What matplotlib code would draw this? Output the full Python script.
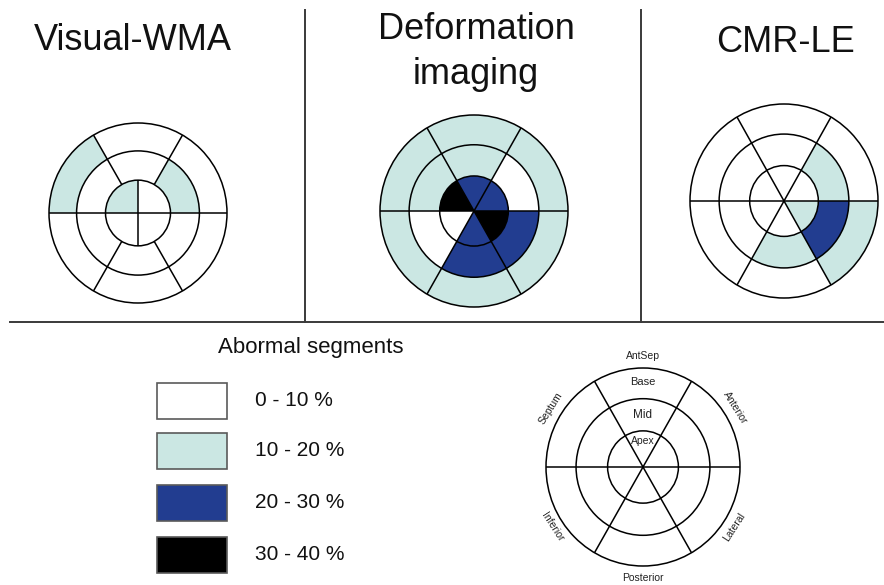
import matplotlib
matplotlib.use("Agg")
import matplotlib.pyplot as plt
from matplotlib.patches import Wedge, Circle, Rectangle
import numpy as np

# ---- data -------------------------------------------------------------
# Segment order for six-sector rings, counter-clockwise from 3 o'clock
segments = ["Anterior", "AntSep", "Septum", "Inferior", "Posterior", "Lateral"]

# Category index per segment (0: 0-10 %, 1: 10-20 %, 2: 20-30 %, 3: 30-40 %)
wma_base = [0, 0, 1, 0, 0, 0]
wma_mid = [1, 0, 0, 0, 0, 0]
wma_apex = [0, 1, 0, 0]          # four apical quadrants, CCW from 3 o'clock

deform_base = [1, 1, 1, 1, 1, 1]
deform_mid = [0, 1, 1, 0, 2, 2]
deform_apex = [2, 2, 3, 0, 2, 3]

cmr_base = [0, 0, 0, 0, 0, 1]
cmr_mid = [1, 0, 0, 0, 1, 2]
cmr_apex = [0, 0, 0, 0, 0, 1]

titles = ["Visual-WMA", "Deformation\nimaging", "CMR-LE"]
legend_title = "Abormal segments"
legend_labels = ["0 - 10 %", "10 - 20 %", "20 - 30 %", "30 - 40 %"]
ring_labels = ["Base", "Mid", "Apex"]

# ---- style ------------------------------------------------------------
W, H = 884, 585
colors = ["#ffffff", "#cbe7e3", "#223d90", "#000000"]
FONT = ["Liberation Sans Narrow", "Liberation Sans", "DejaVu Sans"]
plt.rcParams["font.family"] = FONT

R_MID, R_APEX = 0.69, 0.365
LW = 1.1

fig = plt.figure(figsize=(W / 100, H / 100), dpi=100)
bg = fig.add_axes([0, 0, 1, 1])
bg.set_xlim(0, W)
bg.set_ylim(H, 0)
bg.axis("off")


def bullseye_axes(cx, cy, rx, ry):
    pad = 1.12
    ax = fig.add_axes([(cx - pad * rx) / W, 1 - (cy + pad * ry) / H,
                       2 * pad * rx / W, 2 * pad * ry / H])
    ax.set_xlim(-pad, pad)
    ax.set_ylim(-pad, pad)
    ax.set_aspect("auto")
    ax.axis("off")
    return ax


def ring(ax, values, r_in, r_out, step):
    for i, v in enumerate(values):
        ax.add_patch(Wedge((0, 0), r_out, i * step, (i + 1) * step,
                           width=r_out - r_in, facecolor=colors[v],
                           edgecolor="none"))


def spoke(ax, ang, r0, r1):
    a = np.deg2rad(ang)
    ax.plot([r0 * np.cos(a), r1 * np.cos(a)], [r0 * np.sin(a), r1 * np.sin(a)],
            color="black", lw=LW, solid_capstyle="butt")


def outlines(ax):
    for r in (1.0, R_MID, R_APEX):
        ax.add_patch(Circle((0, 0), r, facecolor="none", edgecolor="black", lw=LW))


# Visual-WMA: apex split in quadrants
ax1 = bullseye_axes(138, 213, 89, 90)
ring(ax1, wma_base, R_MID, 1.0, 60)
ring(ax1, wma_mid, R_APEX, R_MID, 60)
ring(ax1, wma_apex, 0, R_APEX, 90)
outlines(ax1)
spoke(ax1, 0, 0, 1)
spoke(ax1, 180, 0, 1)
for a in (60, 120, 240, 300):
    spoke(ax1, a, R_APEX, 1)
spoke(ax1, 90, 0, R_APEX)
spoke(ax1, 270, 0, R_APEX)

# Deformation imaging and CMR-LE: six sectors in every ring
for (cx, cy, rx, ry), base, mid, apex in [((474, 211, 94, 96), deform_base, deform_mid, deform_apex),
                                          ((784, 201, 94, 97), cmr_base, cmr_mid, cmr_apex)]:
    ax = bullseye_axes(cx, cy, rx, ry)
    ring(ax, base, R_MID, 1.0, 60)
    ring(ax, mid, R_APEX, R_MID, 60)
    ring(ax, apex, 0, R_APEX, 60)
    outlines(ax)
    for a in range(0, 360, 60):
        spoke(ax, a, 0, 1)

# Reference diagram with segment names
axr = bullseye_axes(643, 467, 97, 99)
outlines(axr)
for a in range(0, 360, 60):
    spoke(axr, a, 0, 1)
seg_angles = [32, 90, 148, 213, 270, 327]
for name, ang in zip(segments, seg_angles):
    t = np.deg2rad(ang)
    r = 1.12
    if ang in (90, 270):
        rot = 0
    elif ang < 180:
        rot = ang - 90
    else:
        rot = ang + 90 - 360
    axr.text(r * np.cos(t), r * np.sin(t), name, ha="center", va="center",
             rotation=rot, fontsize=7.5, color="#222222")
for lbl, y, fs in zip(ring_labels, [0.86, 0.53, 0.26], [8, 8.5, 7.5]):
    axr.text(0, y, lbl, ha="center", va="center", fontsize=fs, color="#222222")

# Panel separators
bg.plot([305, 305], [10, 322], color="#3a3a3a", lw=1.4)
bg.plot([641, 641], [10, 322], color="#3a3a3a", lw=1.4)
bg.plot([10, W], [322, 322], color="#3a3a3a", lw=1.4)

# Titles
bg.text(133, 40, titles[0], ha="center", va="center", fontsize=26, color="#111111")
bg.text(476, 52, titles[1], ha="center", va="center", fontsize=26, color="#111111",
        linespacing=1.4)
bg.text(785, 42, titles[2], ha="center", va="center", fontsize=26, color="#111111")

# Legend
bg.text(311, 347, legend_title, ha="center", va="center", fontsize=16, color="#111111")
box_tops = [383, 433, 485, 537]
for c, lbl, top in zip(colors, legend_labels, box_tops):
    bg.add_patch(Rectangle((157, top), 70, 36, facecolor=c, edgecolor="#5a5a5a", lw=1.2))
    bg.text(255, top + 18, lbl, ha="left", va="center", fontsize=15, color="#111111")

fig.savefig("out.png", dpi=100)
